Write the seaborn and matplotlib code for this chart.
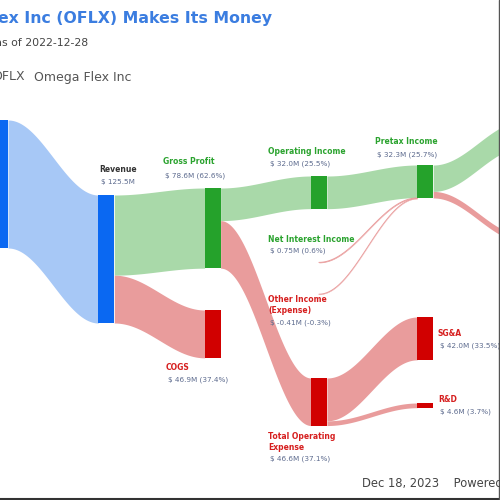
import numpy as np
import matplotlib.pyplot as plt
import seaborn as sns

sns.set_theme(style="white")
plt.rcParams['font.family'] = ['DejaVu Sans']

# values in $M, fiscal 2022
node_ids = ["segment", "revenue", "gross_profit", "cogs", "operating_income", "net_interest",
            "other_income", "total_opex", "pretax", "sga", "rnd", "net_income", "tax"]
node_labels = ["", "Revenue", "Gross Profit", "COGS", "Operating Income", "Net Interest Income",
               "Other Income\n(Expense)", "Total Operating\nExpense", "Pretax Income", "SG&A", "R&D",
               "Net Income", "Tax"]
node_values = [125.5, 125.5, 78.6, 46.9, 32.0, 0.75, -0.41, 46.6, 32.3, 42.0, 4.6, 25.9, 6.4]

flow_src = ["segment", "revenue", "revenue", "gross_profit", "gross_profit", "total_opex", "total_opex",
            "operating_income", "net_interest", "other_income", "pretax", "pretax"]
flow_dst = ["revenue", "gross_profit", "cogs", "operating_income", "total_opex", "sga", "rnd",
            "pretax", "pretax", "pretax", "net_income", "tax"]
flow_values = [125.5, 78.6, 46.9, 32.0, 46.6, 42.0, 4.6, 32.0, 0.75, 0.41, 25.9, 6.4]

# layout (column index, top of node in pixels)
node_col = dict(segment=0, revenue=1, gross_profit=2, cogs=2, operating_income=3, net_interest=3,
                other_income=3, total_opex=3, pretax=4, sga=4, rnd=4, net_income=5, tax=5)
node_top_px = dict(segment=120, revenue=195, gross_profit=188, cogs=310, operating_income=176,
                   net_interest=262, other_income=294, total_opex=378, pretax=165, sga=317, rnd=403,
                   net_income=121, tax=235)
node_kind = dict(segment="blue", revenue="blue", gross_profit="green", cogs="red", operating_income="green",
                 net_interest="green", other_income="red", total_opex="red", pretax="green", sga="red",
                 rnd="red", net_income="green", tax="red")
# label anchors in pixels: x, name y, value y
label_pos = dict(revenue=(99, 170, 182), gross_profit=(163, 162, 176), cogs=(166, 368, 380),
                 operating_income=(268, 152, 164), net_interest=(268, 240, 251),
                 other_income=(268, 300, 323), total_opex=(268, 437, 459), pretax=(375, 142, 155),
                 sga=(438, 333, 346), rnd=(438, 399, 412))

PX_COL = 106.3
PX_M = 1.02
Y0 = 195
HALF_W = 8 / PX_COL

node_color = dict(blue="#0a68f2", green="#25a22b", red="#d10000")
flow_color = dict(blue="#a7c8f6", green="#a9d9a9", red="#e99c9c")
text_color = dict(blue="#333333", green="#2ba32f", red="#d61f1f")
VALUE_COLOR = "#5d6b8e"


def px_x(p):
    return p / PX_COL


def px_y(p):
    return (p - Y0) / PX_M


revenue_total = node_values[1]
values = dict(zip(node_ids, node_values))
labels = dict(zip(node_ids, node_labels))
tops = {n: px_y(node_top_px[n]) for n in node_ids}

fig = plt.figure(figsize=(5, 5), dpi=100)
ax = fig.add_axes([0, 0, 1, 1])
ax.set_xlim(0, px_x(500))
ax.set_ylim(px_y(500), px_y(0))
ax.axis("off")

out_off = {n: 0.0 for n in node_ids}
in_off = {n: 0.0 for n in node_ids}


def band(x0, x1, t0, b0, t1, b1, color, thin=False):
    xs = np.linspace(x0, x1, 120)
    s = (1 - np.cos(np.pi * (xs - x0) / (x1 - x0))) / 2
    top = t0 + (t1 - t0) * s
    bot = b0 + (b1 - b0) * s
    ax.fill_between(xs, top, bot, color=color, lw=0, zorder=1)
    if thin:
        ax.plot(xs, (top + bot) / 2, color=color, lw=0.7, zorder=1)


for src, dst, v in zip(flow_src, flow_dst, flow_values):
    t0 = tops[src] + out_off[src]
    t1 = tops[dst] + in_off[dst]
    out_off[src] += v
    in_off[dst] += v
    thin = v < 1
    x0 = node_col[src] + (0 if thin else HALF_W)
    col = "red" if thin else node_kind[dst]
    band(x0, node_col[dst] - HALF_W, t0, t0 + v, t1, t1 + v, flow_color[col], thin)

for n in node_ids:
    h = abs(values[n])
    if h < 1:
        continue
    ax.bar(node_col[n], h, bottom=tops[n], width=2 * HALF_W, color=node_color[node_kind[n]],
           lw=0, zorder=2)

for n, (lx, ny, vy) in label_pos.items():
    v = values[n]
    if n == "revenue":
        vtxt = f"$ {v:.1f}M"
    else:
        vtxt = f"$ {v:.2f}M ({v / revenue_total * 100:.1f}%)" if abs(v) < 1 else \
            f"$ {v:.1f}M ({v / revenue_total * 100:.1f}%)"
    name = labels[n]
    if "\n" in name:
        ny = ny + 5
    ax.text(px_x(lx), px_y(ny), name, fontsize=5.5, fontweight="bold", color=text_color[node_kind[n]],
            ha="left", va="center", linespacing=1.3)
    ax.text(px_x(lx + 2), px_y(vy), vtxt, fontsize=5.2, color=VALUE_COLOR, ha="left", va="center")

fig.text(272 / 500, 1 - 18 / 500, "How Omega Flex Inc (OFLX) Makes Its Money", fontsize=11.3,
         fontweight="bold", color="#3b7de0", ha="right", va="center")
fig.text(88 / 500, 1 - 43 / 500, "Data as of 2022-12-28", fontsize=7.8, color="#444444",
         ha="right", va="center")
fig.text(25 / 500, 1 - 77 / 500, "OFLX", fontsize=9, color="#555555", ha="right", va="center")
fig.text(34 / 500, 1 - 77 / 500, "Omega Flex Inc", fontsize=9, color="#555555", ha="left", va="center")
fig.text(362 / 500, 1 - 483 / 500, "Dec 18, 2023    Powered by GuruFocus", fontsize=8.3,
         color="#444444", ha="left", va="center")

fig.add_artist(plt.Line2D([0, 1], [0.002, 0.002], transform=fig.transFigure, color="#333333", lw=1.5))
fig.add_artist(plt.Line2D([0.998, 0.998], [0, 1], transform=fig.transFigure, color="#555555", lw=1))

fig.savefig("out.png", dpi=100, facecolor="white")
